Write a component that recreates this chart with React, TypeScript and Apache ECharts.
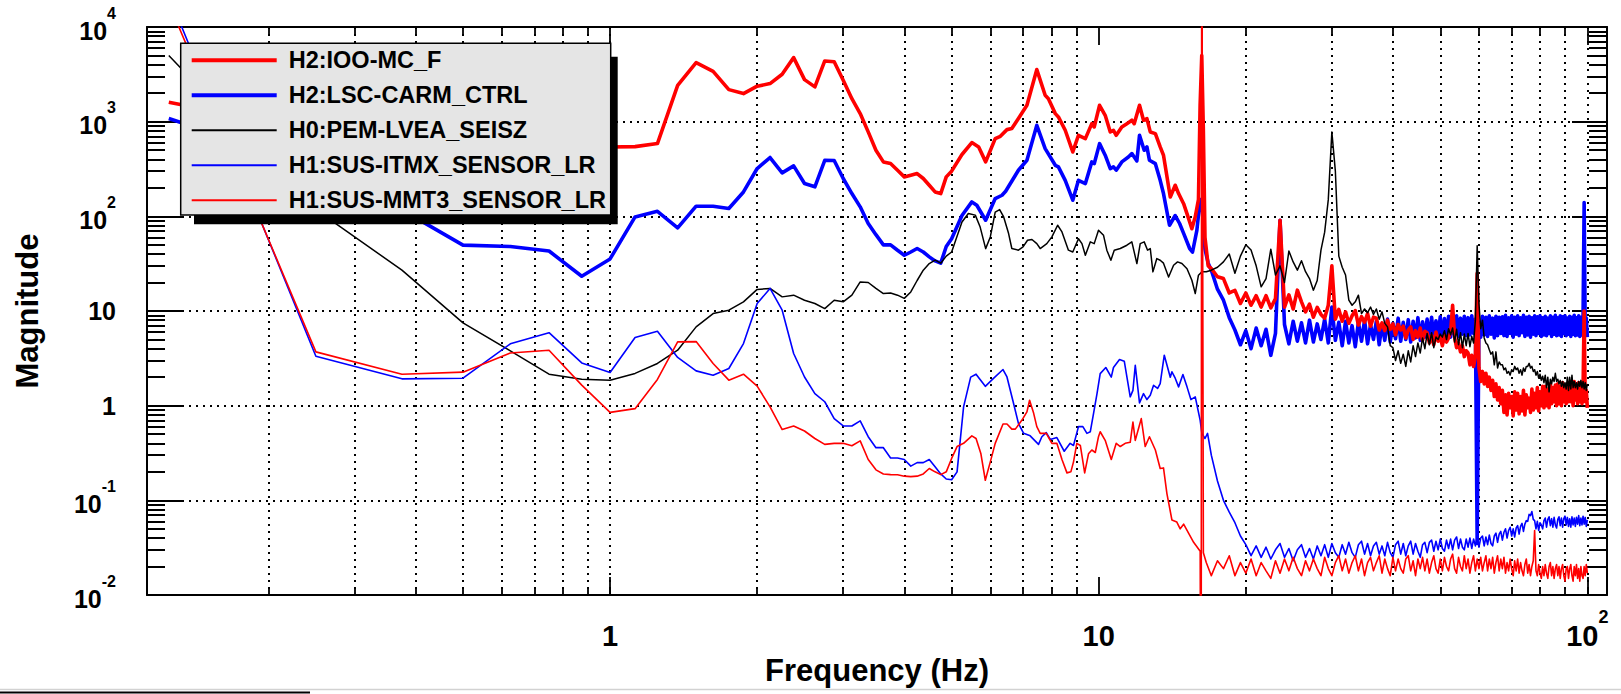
import React, { useEffect, useRef } from 'react';
import * as echarts from 'echarts';

const FONT = '"Liberation Sans", Arial, Helvetica, sans-serif';

const X_MIN = 0.1128;
const X_MAX = 109.7;
const Y_MIN = 0.01;
const Y_MAX = 10000;

const SERIES_NAMES = [
  'H2:IOO-MC_F',
  'H2:LSC-CARM_CTRL',
  'H0:PEM-LVEA_SEISZ',
  'H1:SUS-ITMX_SENSOR_LR',
  'H1:SUS-MMT3_SENSOR_LR',
];
const SERIES_COLORS = ['#ff0000', '#0000ff', '#000000', '#0000ff', '#ff0000'];
const SERIES_WIDTHS = [3.6, 3.6, 1.5, 1.6, 1.6];
const LEGEND_ICONS = [
  'path://M0,0H85V4H0Z',
  'path://M0,0H85V4H0Z',
  'path://M0,0H85V2H0Z',
  'path://M0,0H85V2H0Z',
  'path://M0,0H85V2H0Z',
];

// tick positions
const X_MINOR_TICKS = [0.2, 0.3, 0.4, 0.5, 0.6, 0.7, 0.8, 0.9, 2, 3, 4, 5, 6, 7, 8, 9, 20, 30, 40, 50, 60, 70, 80, 90];
const X_GRID_LINES = [0.2, 0.3, 0.4, 0.5, 0.6, 0.7, 0.8, 0.9, 1, 2, 3, 4, 5, 6, 7, 8, 9, 20, 30, 40, 50, 60, 70, 80, 90, 100];
const Y_MINOR_TICKS = [
  0.02, 0.03, 0.04, 0.05, 0.06, 0.07, 0.08, 0.09,
  0.2, 0.3, 0.4, 0.5, 0.6, 0.7, 0.8, 0.9,
  2, 3, 4, 5, 6, 7, 8, 9,
  20, 30, 40, 50, 60, 70, 80, 90,
  200, 300, 400, 500, 600, 700, 800, 900,
  2000, 3000, 4000, 5000, 6000, 7000, 8000, 9000,
];

// frequency bins (Hz) shared by the low-frequency part of every trace
const LF_BINS = [
  0.125, 0.25, 0.375, 0.5, 0.625, 0.75, 0.875, 1.0,
  1.125, 1.25, 1.375, 1.5, 1.625, 1.75, 1.875, 2.0,
  2.125, 2.25, 2.375, 2.5, 2.625, 2.75, 2.875, 3.0,
  3.125, 3.25, 3.375, 3.5, 3.625, 3.75, 3.875, 4.0,
  4.125, 4.25, 4.375, 4.5, 4.625, 4.75, 4.875, 5.0,
];
// high-frequency bins: 17 Hz .. 100 Hz, 0.5 Hz apart
const HF_START = 17;
const HF_STEP = 0.5;
const HF_COUNT = 167;
const HF_BINS = Array.from({ length: HF_COUNT }, (_, i) => HF_START + HF_STEP * i);

// ---------- H2:IOO-MC_F (thick red)
const iooLowMag = [
  1600, 800, 620, 560, 540, 530, 535, 540,
  545, 587, 2420, 4200, 3400, 2180, 1980, 2370,
  2525, 3170, 4750, 2780, 2330, 4380, 4300, 2735,
  1750, 1217, 780, 499, 376, 361, 307, 261,
  272, 283, 251, 213, 181, 174, 261, 300,
];
const iooMidFreq = [
  5.25, 5.5, 5.68, 5.87, 6.14, 6.29, 6.49, 6.64, 6.85, 7.13,
  7.47, 7.77, 7.89, 8.15, 8.27, 8.54, 8.85, 9.09, 9.39, 9.68,
  9.79, 10.04, 10.31, 10.56, 10.72, 10.86, 11.15, 11.42, 11.69, 11.82,
  12.12, 12.35, 12.55, 12.75, 13.06, 13.36, 13.57, 14.01, 14.34, 14.57,
  14.92, 15.27, 15.51, 15.76, 16, 16.125, 16.25, 16.375, 16.5, 16.75,
];
const iooMidMag = [
  450, 601, 541, 376, 662, 701, 824, 845, 1077, 1489,
  3548, 1900, 1750, 1216, 1122, 811, 479, 718, 662, 953,
  879, 1490, 1167, 779, 811, 718, 879, 953, 1035, 953,
  1490, 1035, 1077, 779, 748, 541, 442, 160, 213, 174,
  136, 95, 74, 99, 150, 1500, 5000, 800, 60, 30,
];
const iooHighMag = [
  28, 23, 22, 15.5, 16.5, 12, 15.5, 11.5, 14.5, 11,
  14.5, 10.8, 13.5, 91, 11, 14.8, 10.5, 16.6, 12.5, 9.8,
  11.8, 8.6, 10.9, 9.2, 8.4, 11.5, 30, 8.2, 10.4, 7.8,
  9.8, 7.4, 8.9, 10.1, 7.1, 8.7, 7.6, 9.4, 6.9, 8.6,
  8.4, 6.3, 7.5, 6.2, 8.0, 6.4, 7.3, 5.6, 7.2, 6.3,
  6.9, 5.2, 6.3, 6.8, 5.0, 6.2, 5.3, 6.6, 4.9, 6.1,
  5.9, 4.6, 5.5, 4.4, 6.0, 4.8, 5.3, 4.3, 5.6, 4.7,
  5.2, 6.0, 11.5, 5.3, 4.1, 4.6, 3.7, 4.3, 3.3, 3.8,
  3.6, 2.7, 3.4, 2.6, 3.3, 25, 2.5, 1.8, 2.3, 1.7,
  2.2, 1.6, 2.0, 1.45, 1.85, 1.25, 1.7, 1.15, 1.55, 1.05,
  1.45, 0.85, 1.3, 0.8, 1.35, 0.95, 1.25, 0.78, 1.4, 0.9,
  1.35, 0.82, 1.25, 0.88, 1.45, 0.8, 1.3, 0.95, 1.2, 0.85,
  1.5, 0.9, 1.35, 0.95, 1.55, 0.88, 1.4, 1.0, 1.6, 0.95,
  1.6, 1.0, 1.5, 0.95, 1.7, 1.05, 1.55, 1.1, 1.65, 1.0,
  1.7, 1.05, 1.6, 1.0, 1.75, 1.1, 1.55, 1.05, 1.7, 1.1,
  1.75, 1.1, 1.65, 1.0, 1.8, 1.15, 1.6, 1.05, 1.75, 1.1,
  1.6, 1.05, 1.5, 10, 1.1, 1.45, 0.95,
];

// ---------- H2:LSC-CARM_CTRL (thick blue)
const carmLowMag = [
  1080, 330, 117, 49.6, 48, 43, 23.3, 35.5,
  98.6, 113, 75.5, 128, 128, 121, 181, 320,
  418, 288, 341, 222, 205, 391, 389, 251,
  174, 126, 84, 64, 50, 50, 43.8, 38.8,
  42, 45.7, 42, 37.3, 33.8, 32, 48, 58,
];
const carmMidFreq = [
  5.25, 5.5, 5.63, 5.87, 6.14, 6.34, 6.45, 6.85, 7.13, 7.47,
  7.77, 8.15, 8.27, 8.54, 8.85, 9.09, 9.39, 9.68, 9.79, 10.04,
  10.31, 10.56, 10.72, 10.86, 11.15, 11.5, 11.69, 11.97, 12.12, 12.39,
  12.55, 12.7, 13.06, 13.36, 13.57, 13.96, 14.34, 14.64, 14.92, 15.35,
  15.56, 15.88, 16.125, 16.25, 16.375, 16.5, 16.75,
];
const carmMidMag = [
  102, 142, 131, 91, 154, 167, 184, 307, 391, 916,
  519, 346, 333, 240, 148, 240, 222, 376, 360, 586,
  442, 319, 333, 307, 376, 424, 460, 385, 718, 499,
  541, 391, 360, 240, 174, 80.5, 102, 84, 66, 45.7,
  42, 71, 150, 150, 80, 45, 32,
];
const carmHighMag = [
  27, 17, 13, 8.5, 6.3, 4.4, 6.2, 4.0, 6.6, 4.3,
  6.4, 3.4, 5.8, 91, 7.2, 4.5, 7.8, 4.8, 7.5, 4.6,
  8.0, 4.7, 7.3, 5.0, 8.2, 4.6, 11, 4.9, 7.6, 4.3,
  7.8, 4.6, 7.0, 4.2, 7.6, 4.8, 8.0, 4.5, 7.2, 5.0,
  7.8, 4.4, 7.3, 4.9, 8.2, 4.7, 7.4, 5.1, 8.4, 4.8,
  7.6, 5.0, 8.1, 4.7, 7.8, 5.2, 8.5, 4.9, 7.7, 5.3,
  8.2, 5.0, 8.6, 5.2, 7.9, 5.4, 8.7, 5.1, 8.3, 5.5,
  8.8, 5.3, 8.2, 5.6, 8.9, 5.4, 8.4, 5.7, 8.8, 5.5,
  8.5, 5.6, 8.9, 5.8, 8.2, 0.035, 7.5, 5.3, 8.8, 5.6,
  8.6, 5.4, 8.9, 5.7, 8.4, 5.2, 8.8, 5.5, 8.6, 5.8,
  8.7, 5.5, 9.0, 5.4, 8.5, 5.8, 8.9, 5.3, 8.6, 5.7,
  8.9, 5.5, 8.5, 5.9, 9.0, 5.4, 8.6, 5.6, 8.8, 5.3,
  8.5, 5.7, 8.9, 5.5, 8.7, 5.8, 8.9, 5.4, 8.5, 5.6,
  8.8, 5.5, 8.4, 5.8, 8.9, 5.4, 8.6, 5.7, 9.0, 5.5,
  8.5, 5.6, 8.9, 5.4, 8.7, 5.8, 8.9, 5.5, 8.4, 5.7,
  8.8, 5.4, 8.6, 5.7, 9.0, 5.5, 8.5, 5.6, 8.9, 5.4,
  8.6, 5.6, 8.8, 140, 5.7, 8.4, 5.3,
];

// ---------- H0:PEM-LVEA_SEISZ (thin black)
const seisLowMag = [
  5000, 118, 27, 7.5, 3.8, 2.15, 1.9, 1.86,
  2.19, 2.79, 3.85, 6.8, 9.4, 10.2, 12.5, 16.9,
  17.3, 14.1, 14.7, 13, 12, 10.6, 13, 12.5,
  14.7, 20.3, 20, 17.3, 15.3, 15.5, 14.7, 13.6,
  15.9, 21, 27, 31.7, 34.4, 32, 38, 42,
];
const seisMidFreq = [
  5.25, 5.41, 5.59, 5.72, 5.87, 6.0, 6.14, 6.27, 6.39, 6.54,
  6.64, 6.85, 7.0, 7.15, 7.3, 7.47, 7.59, 7.83, 8.02, 8.24,
  8.41, 8.67, 8.85, 9.09, 9.24, 9.39, 9.61, 9.79, 9.99, 10.23,
  10.39, 10.59, 10.76, 11.07, 11.42, 11.69, 11.97, 12.16, 12.39, 12.59,
  12.75, 12.91, 13.15, 13.36, 13.57, 13.9, 14.23, 14.5, 14.8, 15.16,
  15.51, 15.76, 16.0, 16.26, 16.6,
];
const seisMidMag = [
  87, 107, 103, 77, 45.6, 60.6, 111, 118, 98.6, 65.8,
  45.7, 43.9, 47.5, 55.9, 56.9, 51.5, 45.7, 51.5, 60.7, 80.5,
  68.4, 43.9, 42, 58, 51.5, 38.8, 53.7, 51.5, 71.3, 63,
  43.9, 34.4, 43.9, 45.7, 49.5, 53.7, 31.7, 51.5, 53.7, 43.9,
  45.7, 25.9, 35.8, 34.4, 32, 22.9, 30.4, 33, 31.7, 28,
  21.1, 15.3, 23.9, 25.9, 26,
];
const seisHighMag = [
  27, 29, 33, 40, 25, 38, 50, 44, 30, 18,
  22, 45, 24, 30, 20, 43, 33, 27, 34, 26,
  22, 16.6, 21, 44, 68, 150, 780, 300, 38, 29,
  24, 13, 11.5, 12.5, 14.7, 9.4, 10.5, 9.6, 11, 9.2,
  10.5, 8.2, 9.8, 7.4, 6.8, 4.3, 4.1, 3.0, 3.8, 2.8,
  3.5, 2.6, 3.8, 2.9, 4.3, 3.3, 4.6, 3.6, 5.2, 4.0,
  5.8, 4.4, 5.9, 4.1, 5.3, 5.0, 5.7, 5.3, 6.2, 5.0,
  6.5, 5.6, 6.6, 4.7, 6.4, 4.4, 5.9, 4.1, 5.7, 4.3,
  5.8, 4.2, 5.4, 4.6, 8, 49, 12, 6.5, 8.0, 5.2,
  4.6, 4.4, 3.9, 3.5, 3.7, 2.7, 3.7, 2.5, 2.9, 2.7,
  2.7, 2.4, 2.5, 2.2, 2.3, 2.1, 2.4, 2.3, 2.6, 2.4,
  2.5, 2.2, 2.4, 2.1, 2.5, 2.3, 2.6, 2.6, 2.8, 2.5,
  2.6, 2.3, 2.4, 2.1, 2.3, 1.95, 2.15, 1.85, 2.05, 1.75,
  2.1, 1.55, 2.0, 1.4, 1.9, 1.7, 2.0, 1.8, 2.2, 1.8,
  1.9, 1.7, 1.85, 1.6, 1.8, 1.55, 1.75, 1.5, 2.0, 1.45,
  2.0, 1.5, 2.1, 1.55, 1.8, 1.55, 1.75, 1.5, 1.8, 1.6,
  1.85, 1.55, 1.8, 1.5, 1.75, 1.45, 1.7,
];

// ---------- H1:SUS-ITMX_SENSOR_LR (thin blue)
const itmxLowMag = [
  21700, 3.33, 1.92, 1.95, 4.5, 5.9, 2.83, 2.24,
  5.25, 6.1, 3.23, 2.33, 2.1, 2.47, 4.53, 12,
  17.3, 10.2, 3.56, 2.01, 1.34, 1.1, 0.73, 0.61,
  0.61, 0.69, 0.47, 0.36, 0.36, 0.28, 0.28, 0.27,
  0.23, 0.25, 0.25, 0.27, 0.226, 0.19, 0.168, 0.165,
];
const itmxMidFreq = [
  5.13, 5.29, 5.47, 5.61, 5.86, 6.09, 6.37, 6.49, 6.67, 6.85,
  7.02, 7.24, 7.53, 7.65, 7.81, 7.96, 8.21, 8.5, 8.74, 8.88,
  9.09, 9.28, 9.46, 9.61, 9.76, 9.92, 10.07, 10.34, 10.61, 10.72,
  11.03, 11.28, 11.6, 11.75, 11.88, 12.12, 12.35, 12.55, 12.75, 12.95,
  13.2, 13.36, 13.62, 14.01, 14.12, 14.34, 14.57, 14.87, 15.16, 15.44,
  15.76, 16.13, 16.26, 16.5, 16.7,
];
const itmxMidMag = [
  0.2, 0.97, 2.0, 2.15, 1.6, 1.94, 2.41, 2.01, 1.14, 0.65,
  0.51, 0.48, 0.39, 0.47, 0.52, 0.44, 0.46, 0.33, 0.4, 0.38,
  0.6, 0.6, 0.51, 0.53, 0.83, 1.34, 2.18, 2.53, 2.0, 2.53,
  3.07, 2.95, 1.24, 1.45, 2.67, 1.07, 1.34, 1.16, 1.29, 1.64,
  1.52, 1.71, 3.41, 2.0, 2.28, 1.95, 1.58, 2.13, 1.58, 1.16,
  1.24, 0.7, 0.51, 0.45, 0.51,
];
const itmxHighMag = [
  0.3, 0.16, 0.1, 0.075, 0.058, 0.042, 0.034, 0.026, 0.033, 0.025,
  0.032, 0.024, 0.030, 0.035, 0.025, 0.031, 0.023, 0.030, 0.034, 0.025,
  0.031, 0.024, 0.033, 0.026, 0.034, 0.025, 0.035, 0.028, 0.025, 0.034,
  0.027, 0.036, 0.028, 0.025, 0.034, 0.037, 0.027, 0.035, 0.026, 0.033,
  0.036, 0.027, 0.033, 0.026, 0.036, 0.028, 0.025, 0.034, 0.037, 0.027,
  0.035, 0.026, 0.033, 0.037, 0.027, 0.035, 0.029, 0.025, 0.034, 0.036,
  0.028, 0.036, 0.038, 0.029, 0.037, 0.030, 0.039, 0.031, 0.029, 0.038,
  0.031, 0.039, 0.030, 0.038, 0.041, 0.031, 0.039, 0.032, 0.030, 0.039,
  0.032, 0.040, 0.031, 0.039, 0.033, 0.041, 0.032, 0.040, 0.042, 0.033,
  0.041, 0.034, 0.043, 0.035, 0.033, 0.042, 0.045, 0.036, 0.044, 0.047,
  0.038, 0.046, 0.050, 0.040, 0.048, 0.052, 0.042, 0.050, 0.041, 0.051,
  0.054, 0.044, 0.053, 0.057, 0.047, 0.056, 0.061, 0.060, 0.071, 0.069,
  0.076, 0.063, 0.061, 0.050, 0.060, 0.048, 0.058, 0.055, 0.050, 0.061,
  0.065, 0.052, 0.063, 0.067, 0.054, 0.064, 0.052, 0.066, 0.055, 0.051,
  0.063, 0.067, 0.054, 0.065, 0.052, 0.064, 0.068, 0.055, 0.066, 0.053,
  0.064, 0.052, 0.067, 0.055, 0.065, 0.053, 0.066, 0.056, 0.069, 0.054,
  0.065, 0.055, 0.068, 0.056, 0.066, 0.053, 0.062,
];

// ---------- H1:SUS-MMT3_SENSOR_LR (thin red)
const mmt3LowMag = [
  17900, 3.7, 2.15, 2.26, 3.6, 3.85, 1.65, 0.85,
  0.93, 1.89, 4.72, 4.75, 2.79, 1.86, 2.15, 1.61,
  0.97, 0.56, 0.61, 0.54, 0.45, 0.39, 0.4, 0.4,
  0.377, 0.425, 0.27, 0.21, 0.19, 0.187, 0.186, 0.18,
  0.178, 0.18, 0.19, 0.217, 0.2, 0.187, 0.2, 0.277,
];
const mmt3MidFreq = [
  5.13, 5.29, 5.5, 5.61, 5.74, 5.86, 6.0, 6.14, 6.37, 6.49,
  6.64, 6.75, 6.96, 7.13, 7.22, 7.36, 7.47, 7.59, 7.81, 8.02,
  8.21, 8.41, 8.61, 8.77, 8.88, 9.02, 9.17, 9.36, 9.53, 9.68,
  9.84, 9.99, 10.07, 10.31, 10.61, 10.86, 11.07, 11.33, 11.6, 11.75,
  11.88, 12.06, 12.22, 12.45, 12.7, 13.06, 13.36, 13.57, 13.79, 14.12,
  14.45, 14.68, 14.92, 15.27, 15.64, 16.13, 16.2, 16.25, 16.375, 16.6,
];
const mmt3MidMag = [
  0.37, 0.4, 0.48, 0.45, 0.31, 0.163, 0.255, 0.4, 0.64, 0.64,
  0.565, 0.565, 0.7, 0.86, 1.14, 0.83, 0.6, 0.51, 0.51, 0.4,
  0.4, 0.27, 0.195, 0.2, 0.255, 0.4, 0.38, 0.195, 0.31, 0.34,
  0.32, 0.47, 0.53, 0.43, 0.27, 0.4, 0.37, 0.4, 0.41, 0.67,
  0.43, 0.57, 0.73, 0.37, 0.47, 0.34, 0.217, 0.22, 0.118, 0.062,
  0.059, 0.05, 0.056, 0.045, 0.036, 0.029, 0.00001, 1000000, 0.028, 0.022,
];
const mmt3HighMag = [
  0.016, 0.023, 0.019, 0.026, 0.016, 0.022, 0.017, 0.024, 0.016, 0.022,
  0.018, 0.015, 0.023, 0.017, 0.024, 0.018, 0.025, 0.019, 0.016, 0.023,
  0.018, 0.024, 0.019, 0.016, 0.025, 0.019, 0.016, 0.022, 0.026, 0.018,
  0.024, 0.017, 0.022, 0.026, 0.018, 0.024, 0.016, 0.022, 0.025, 0.018,
  0.022, 0.026, 0.017, 0.024, 0.019, 0.016, 0.025, 0.018, 0.024, 0.019,
  0.017, 0.024, 0.026, 0.018, 0.023, 0.016, 0.024, 0.019, 0.025, 0.018,
  0.024, 0.017, 0.022, 0.026, 0.019, 0.017, 0.024, 0.018, 0.025, 0.020,
  0.018, 0.024, 0.027, 0.019, 0.017, 0.025, 0.020, 0.018, 0.026, 0.019,
  0.024, 0.017, 0.022, 0.026, 0.018, 0.024, 0.019, 0.025, 0.018, 0.022,
  0.026, 0.018, 0.024, 0.019, 0.025, 0.017, 0.022, 0.026, 0.018, 0.024,
  0.019, 0.025, 0.017, 0.022, 0.018, 0.024, 0.019, 0.016, 0.023, 0.018,
  0.024, 0.017, 0.022, 0.018, 0.016, 0.021, 0.024, 0.017, 0.021, 0.016,
  0.020, 0.023, 0.048, 0.018, 0.016, 0.021, 0.017, 0.015, 0.020, 0.016,
  0.021, 0.017, 0.015, 0.020, 0.022, 0.016, 0.020, 0.015, 0.019, 0.021,
  0.016, 0.020, 0.015, 0.019, 0.021, 0.016, 0.014, 0.019, 0.020, 0.015,
  0.019, 0.021, 0.016, 0.014, 0.020, 0.016, 0.021, 0.015, 0.019, 0.014,
  0.020, 0.016, 0.015, 0.020, 0.016, 0.021, 0.017,
];

function pairs(f: number[], m: number[]): number[][] {
  const out: number[][] = [];
  const n = Math.min(f.length, m.length);
  for (let i = 0; i < n; i++) out.push([f[i], m[i]]);
  return out;
}

function trace(lowMag: number[], midF: number[], midM: number[], highM: number[]) {
  return pairs(LF_BINS, lowMag).concat(pairs(midF, midM)).concat(pairs(HF_BINS, highM));
}

const TRACES = [
  trace(iooLowMag, iooMidFreq, iooMidMag, iooHighMag),
  trace(carmLowMag, carmMidFreq, carmMidMag, carmHighMag),
  trace(seisLowMag, seisMidFreq, seisMidMag, seisHighMag),
  trace(itmxLowMag, itmxMidFreq, itmxMidMag, itmxHighMag),
  trace(mmt3LowMag, mmt3MidFreq, mmt3MidMag, mmt3HighMag),
];

// drawing order (later = on top)
const DRAW_ORDER = [1, 0, 2, 3, 4];

// y tick labels (label block centred on the tick)
const Y_FS = 25;
const Y_SUP = 16;
const Y_B_PAD = 6;
const Y_S_PAD = 28;
// x tick labels (label block hangs below the axis)
const X_FS = 29;
const X_SUP = 18;
const X_S_PAD = 24;
const X_C_PAD = 13;

const base = { fontFamily: FONT, fontWeight: 'bold', color: '#000' };

function powLabel(v: number): string {
  const e = Math.round(Math.log10(v));
  if (e === 0) return '{c|1}';
  if (e === 1) return '{c|10}';
  return '{b|10}{s|' + e + '}';
}

const Y_RICH = {
  b: { ...base, fontSize: Y_FS, verticalAlign: 'bottom', padding: [0, 0, Y_B_PAD, 0] },
  s: { ...base, fontSize: Y_SUP, verticalAlign: 'bottom', padding: [0, 0, Y_S_PAD, 0] },
  c: { ...base, fontSize: Y_FS, verticalAlign: 'bottom' },
};
const X_RICH = {
  b: { ...base, fontSize: X_FS, verticalAlign: 'bottom' },
  s: { ...base, fontSize: X_SUP, verticalAlign: 'bottom', padding: [0, 0, X_S_PAD, 0] },
  c: { ...base, fontSize: X_FS, verticalAlign: 'bottom', padding: [X_C_PAD, 0, 0, 0] },
};

const log10 = (v: number) => Math.log10(v);

const DOT = { color: '#000', width: 2, type: [2, 5] as number[] };

function buildOption() {
  const lx0 = log10(X_MIN);
  const lx1 = log10(X_MAX);
  const ly0 = log10(Y_MIN);
  const ly1 = log10(Y_MAX);

  return {
    animation: false,
    backgroundColor: '#ffffff',
    textStyle: { fontFamily: FONT },
    grid: { left: 147, right: 14, top: 27, bottom: 99, containLabel: false },
    legend: {
      orient: 'vertical',
      left: 191.7,
      top: 48.3,
      padding: 0,
      itemWidth: 85,
      itemHeight: 20,
      itemGap: 11,
      selectedMode: false,
      z: 20,
      textStyle: {
        fontFamily: FONT,
        fontWeight: 'bold',
        fontSize: 23.5,
        color: '#000',
        lineHeight: 23.5,
        padding: [0, 0, 0, 7],
      },
      data: SERIES_NAMES.map((n, i) => ({ name: n, icon: LEGEND_ICONS[i], itemStyle: { color: SERIES_COLORS[i] } })),
    },
    xAxis: [
      {
        type: 'log',
        logBase: 10,
        gridIndex: 0,
        position: 'bottom',
        min: X_MIN,
        max: X_MAX,
        axisLine: { onZero: false, lineStyle: { color: '#000', width: 2 } },
        axisTick: { inside: true, length: 18, lineStyle: { color: '#000', width: 1.8 } },
        axisLabel: {
          margin: 13,
          showMinLabel: false,
          showMaxLabel: false,
          formatter: powLabel,
          rich: X_RICH,
        },
        splitLine: { show: false },
        name: 'Frequency (Hz)',
        nameLocation: 'middle',
        nameGap: 60,
        nameTextStyle: { fontFamily: FONT, fontWeight: 'bold', fontSize: 31, color: '#000' },
      },
      {
        type: 'value',
        gridIndex: 0,
        position: 'bottom',
        min: lx0,
        max: lx1,
        axisLine: { show: false, onZero: false },
        axisTick: { show: true, inside: true, length: 8, customValues: X_GRID_LINES.map(log10), lineStyle: { color: '#000', width: 1.8 } },
        axisLabel: { show: false },
        splitLine: { show: true, lineStyle: DOT },
      },
      {
        type: 'log',
        logBase: 10,
        gridIndex: 0,
        position: 'top',
        min: X_MIN,
        max: X_MAX,
        axisLine: { onZero: false, lineStyle: { color: '#000', width: 2 } },
        axisTick: { inside: true, length: 18, lineStyle: { color: '#000', width: 1.8 } },
        axisLabel: { show: false },
        splitLine: { show: false },
      },
      {
        type: 'value',
        gridIndex: 0,
        position: 'top',
        min: lx0,
        max: lx1,
        axisLine: { show: false, onZero: false },
        axisTick: { show: true, inside: true, length: 8, customValues: X_MINOR_TICKS.map(log10), lineStyle: { color: '#000', width: 1.8 } },
        axisLabel: { show: false },
        splitLine: { show: false },
      },
    ],
    yAxis: [
      {
        type: 'log',
        logBase: 10,
        gridIndex: 0,
        position: 'left',
        min: Y_MIN,
        max: Y_MAX,
        axisLine: { onZero: false, lineStyle: { color: '#000', width: 2 } },
        axisTick: { inside: true, length: 35, lineStyle: { color: '#000', width: 2 } },
        axisLabel: {
          margin: 31,
          showMinLabel: true,
          showMaxLabel: true,
          formatter: powLabel,
          rich: Y_RICH,
        },
        splitLine: { show: true, lineStyle: DOT },
        name: 'Magnitude',
        nameLocation: 'middle',
        nameRotate: 90,
        nameGap: 104,
        nameTextStyle: { fontFamily: FONT, fontWeight: 'bold', fontSize: 31, color: '#000' },
      },
      {
        type: 'value',
        gridIndex: 0,
        position: 'left',
        min: ly0,
        max: ly1,
        axisLine: { show: false, onZero: false },
        axisTick: { show: true, inside: true, length: 18, customValues: Y_MINOR_TICKS.map(log10), lineStyle: { color: '#000', width: 2 } },
        axisLabel: { show: false },
        splitLine: { show: false },
      },
      {
        type: 'log',
        logBase: 10,
        gridIndex: 0,
        position: 'right',
        min: Y_MIN,
        max: Y_MAX,
        axisLine: { onZero: false, lineStyle: { color: '#000', width: 2 } },
        axisTick: { inside: true, length: 35, lineStyle: { color: '#000', width: 2 } },
        axisLabel: { show: false },
        splitLine: { show: false },
      },
      {
        type: 'value',
        gridIndex: 0,
        position: 'right',
        min: ly0,
        max: ly1,
        axisLine: { show: false, onZero: false },
        axisTick: { show: true, inside: true, length: 18, customValues: Y_MINOR_TICKS.map(log10), lineStyle: { color: '#000', width: 2 } },
        axisLabel: { show: false },
        splitLine: { show: false },
      },
    ],
    series: DRAW_ORDER.map((i) => ({
      type: 'line',
      name: SERIES_NAMES[i],
      xAxisIndex: 0,
      yAxisIndex: 0,
      data: TRACES[i],
      showSymbol: false,
      symbol: 'none',
      clip: true,
      silent: true,
      color: SERIES_COLORS[i],
      itemStyle: { color: SERIES_COLORS[i] },
      lineStyle: { color: SERIES_COLORS[i], width: SERIES_WIDTHS[i], join: 'round' },
      emphasis: { disabled: true },
      z: 2,
    })),
    graphic: [
      { type: 'rect', z: 10, silent: true, shape: { x: 194, y: 56.7, width: 423.7, height: 167.6 }, style: { fill: '#000' } },
      { type: 'rect', z: 11, silent: true, shape: { x: 180.7, y: 43.3, width: 430, height: 171.7 }, style: { fill: '#e5e5e5', stroke: '#000', lineWidth: 1.5 } },
      { type: 'line', z: 1, silent: true, shape: { x1: 0, y1: 689.5, x2: 1621, y2: 689.5 }, style: { stroke: '#d2d2d2', lineWidth: 1.5 } },
      { type: 'line', z: 1, silent: true, shape: { x1: 0, y1: 692.5, x2: 310, y2: 692.5 }, style: { stroke: '#000', lineWidth: 2 } },
    ],
  };
}

export default function App() {
  const ref = useRef<HTMLDivElement>(null);
  useEffect(() => {
    if (!ref.current) return;
    const chart = echarts.init(ref.current, null, { renderer: 'svg' });
    chart.setOption(buildOption() as any);
    return () => chart.dispose();
  }, []);
  return (
    <div
      ref={ref}
      style={{ position: 'fixed', left: 0, top: 0, width: 1621, height: 694, background: '#ffffff' }}
    />
  );
}
